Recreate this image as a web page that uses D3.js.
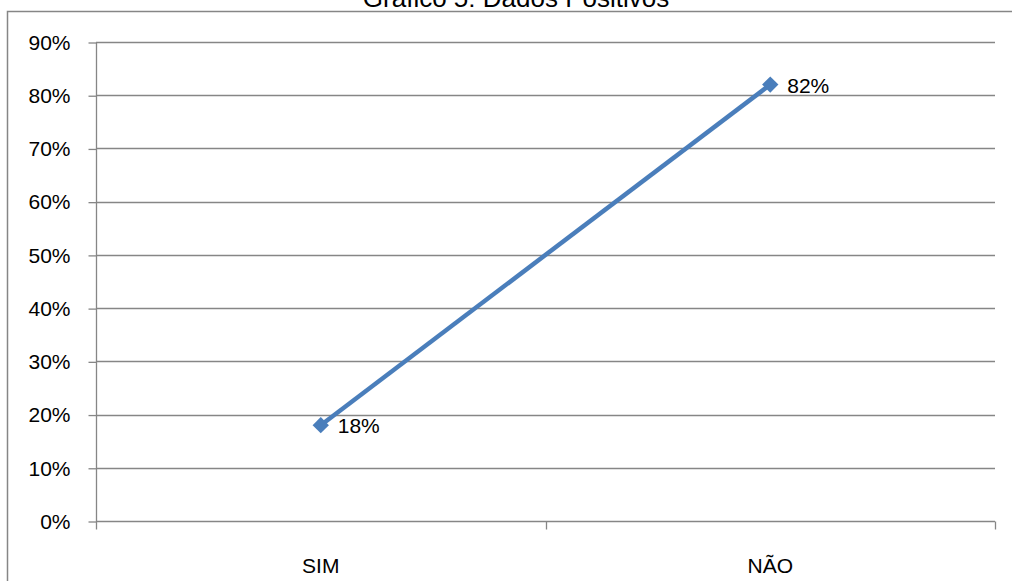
<!DOCTYPE html>
<html><head><meta charset="utf-8">
<script src="https://cdn.jsdelivr.net/npm/d3@7"></script>
<style>body{margin:0;background:#fff;}svg{display:block;}</style>
</head><body>
<svg id="c" width="1012" height="581"></svg>
<script>
const categories = ["SIM", "NÃO"];
const values = [0.18, 0.82];
const yTicks = [0, 0.1, 0.2, 0.3, 0.4, 0.5, 0.6, 0.7, 0.8, 0.9];
const title = "Gráfico 5: Dados Positivos";

const svg = d3.select("#c");
const font = "Liberation Sans, Arial, sans-serif";
const grid = "#868686";

// outer frame
svg.append("path").attr("d", "M7.5,581 V11.5 H1012").attr("fill", "none").attr("stroke", grid).attr("stroke-width", 1.5);

svg.append("text").attr("x", 516).attr("y", 7).attr("text-anchor", "middle")
  .attr("font-family", font).attr("font-size", 26).attr("fill", "#000").text(title);

const x0 = 96, x1 = 995, yTop = 42, yBot = 521;
const y = d3.scaleLinear().domain([0, 0.9]).range([yBot, yTop]);
const xb = d3.scaleBand().domain(categories).range([x0, x1]);
const xc = d => xb(d) + xb.bandwidth() / 2;

// gridlines
svg.append("g").selectAll("line").data(yTicks.filter(t => t > 0)).join("line")
  .attr("x1", x0).attr("x2", x1).attr("y1", d => Math.round(y(d)) + 0.5).attr("y2", d => Math.round(y(d)) + 0.5)
  .attr("stroke", grid).attr("stroke-width", 1.3);

// y axis
const yAxis = d3.axisLeft(y).tickValues(yTicks).tickFormat(d3.format(".0%")).tickSize(8).tickPadding(18);
const gy = svg.append("g").attr("transform", `translate(${x0 + 0.5},0.5)`).call(yAxis);
gy.select(".domain").attr("stroke", grid).attr("stroke-width", 1.3).attr("d", `M0,${yTop} V${yBot}`);
gy.selectAll(".tick line").attr("stroke", grid).attr("stroke-width", 1.3);
gy.selectAll(".tick text").attr("font-family", font).attr("font-size", 21).attr("fill", "#000");

// x axis
const gx = svg.append("g").attr("transform", `translate(0,${yBot + 0.5})`);
gx.append("line").attr("x1", x0).attr("x2", x1).attr("stroke", grid).attr("stroke-width", 1.3);
const bounds = [x0, xb(categories[1]), x1];
gx.selectAll(".tk").data(bounds).join("line").attr("class", "tk")
  .attr("x1", d => Math.round(d) + 0.5).attr("x2", d => Math.round(d) + 0.5).attr("y1", 0).attr("y2", 8)
  .attr("stroke", grid).attr("stroke-width", 1.3);
gx.selectAll(".lbl").data(categories).join("text").attr("class", "lbl")
  .attr("x", d => xc(d)).attr("y", 51).attr("text-anchor", "middle")
  .attr("font-family", font).attr("font-size", 21).attr("fill", "#000").text(d => d);

// line
const pts = categories.map((c, i) => ({c, v: values[i]}));
svg.append("path").datum(pts)
  .attr("d", d3.line().x(d => xc(d.c)).y(d => y(d.v)))
  .attr("fill", "none").attr("stroke", "#4a7ebb").attr("stroke-width", 4.5);
svg.append("g").selectAll("path").data(pts).join("path")
  .attr("d", d3.symbol(d3.symbolDiamond2, 170))
  .attr("transform", d => `translate(${xc(d.c)},${y(d.v)})`)
  .attr("fill", "#4a7ebb");
svg.append("g").selectAll("text").data(pts).join("text")
  .attr("x", d => xc(d.c) + 17).attr("y", d => y(d.v) + 8)
  .attr("font-family", font).attr("font-size", 21).attr("fill", "#000")
  .text(d => d3.format(".0%")(d.v));
</script>
</body></html>
